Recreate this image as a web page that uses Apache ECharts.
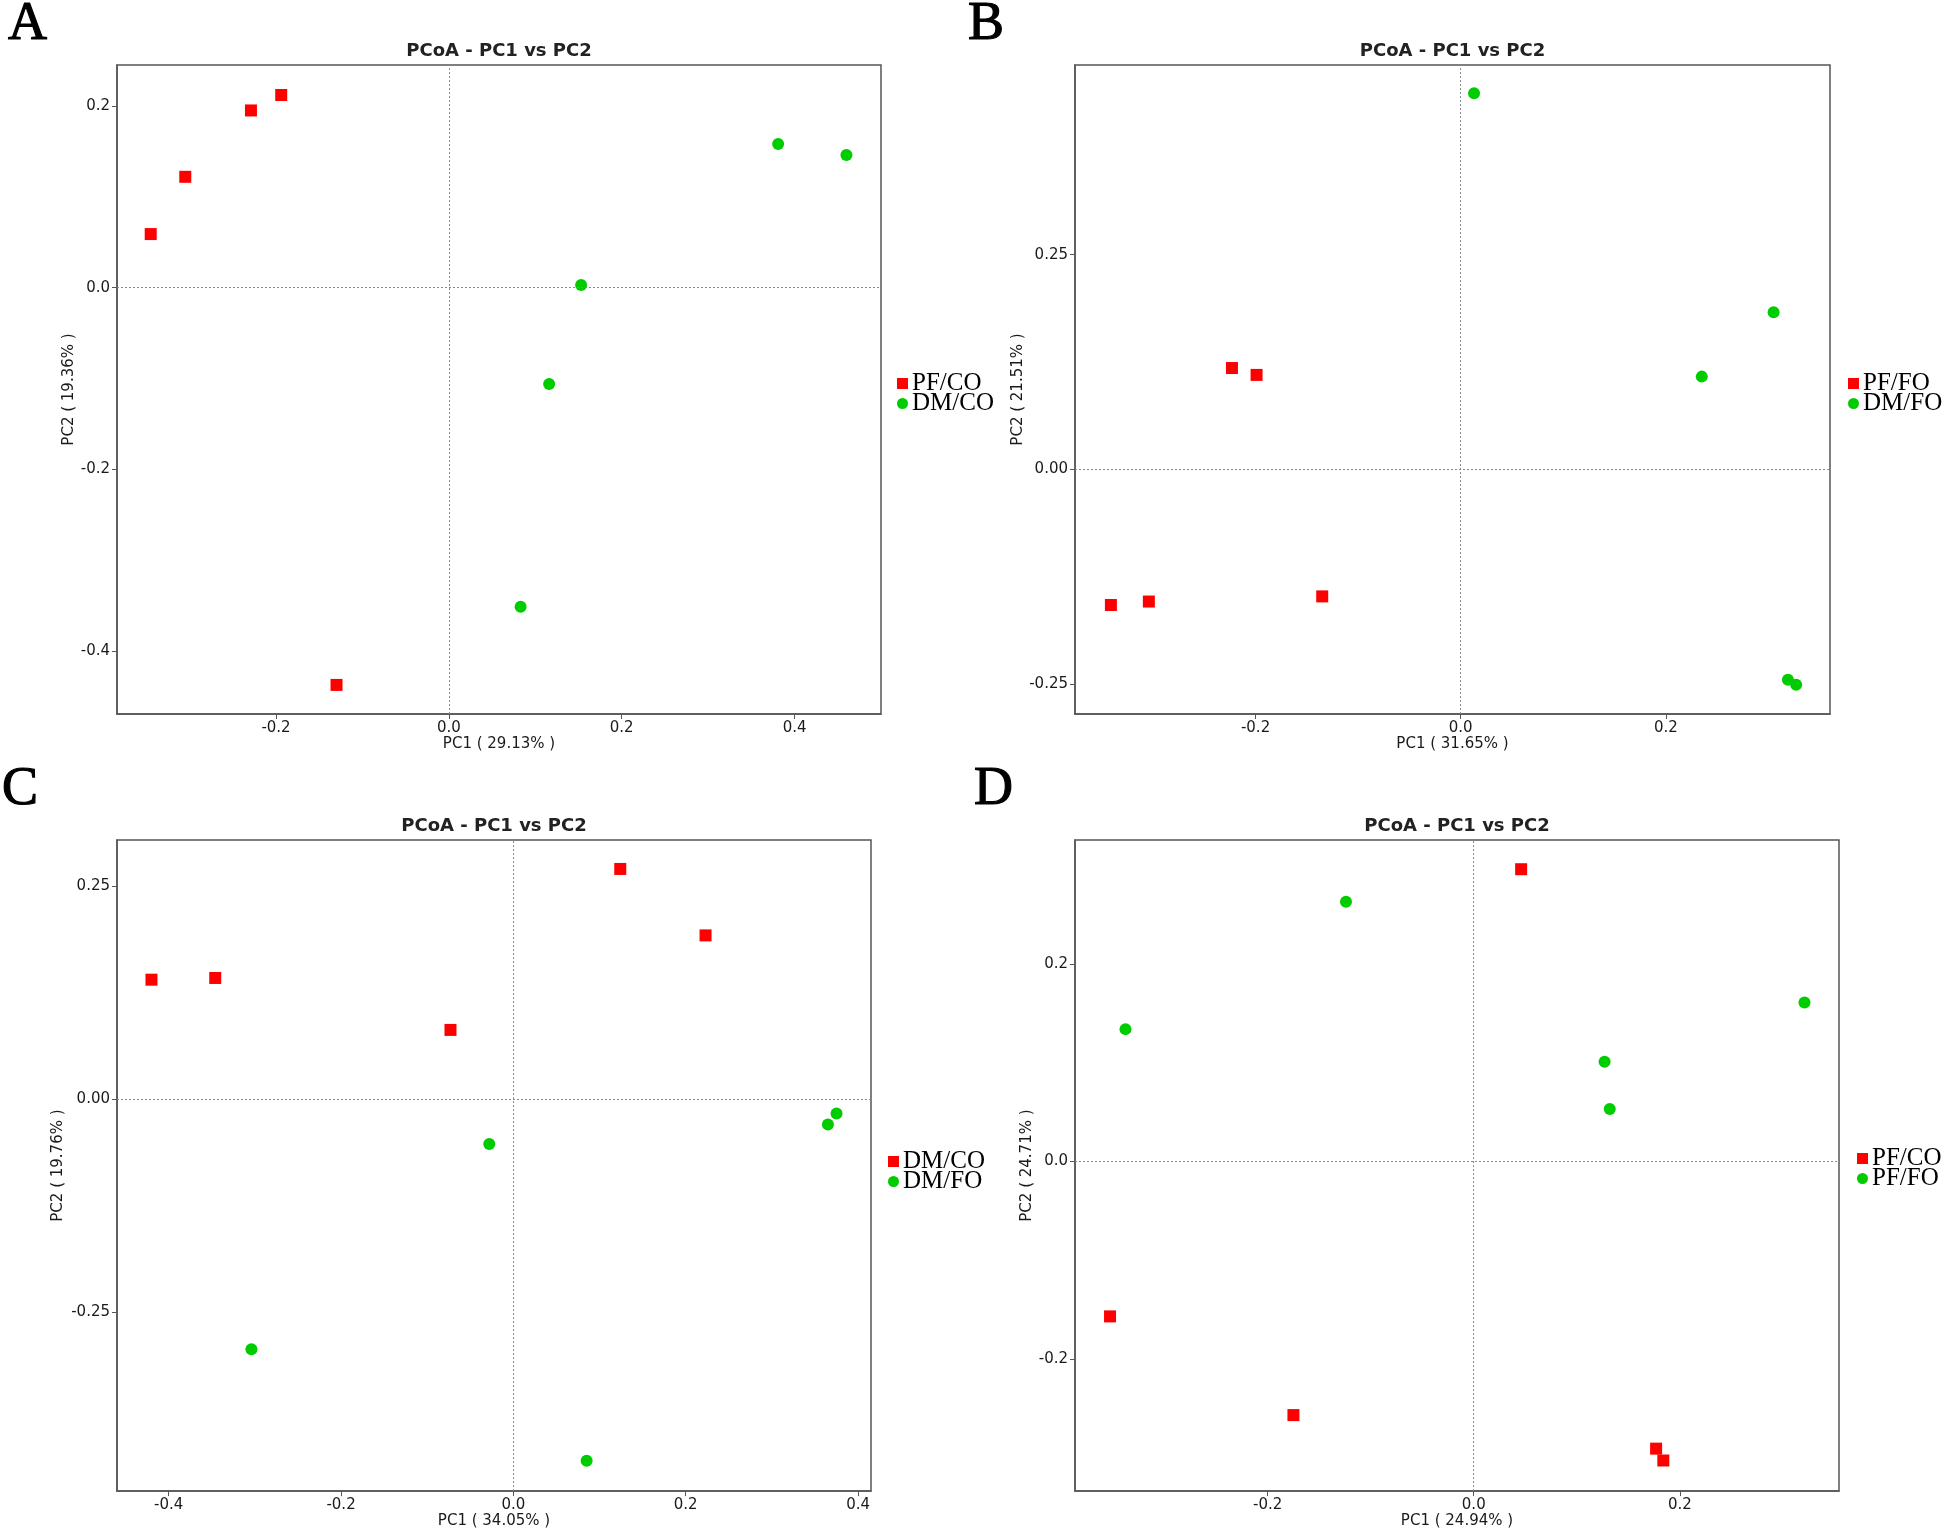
<!DOCTYPE html>
<html>
<head>
<meta charset="utf-8">
<script src="https://cdn.jsdelivr.net/npm/echarts@6/dist/echarts.min.js"></script>
<style>
html,body{margin:0;padding:0;background:#fff;}
#main{width:1946px;height:1530px;}
</style>
</head>
<body>
<div id="main"></div>
<script>
// ---------- DATA ----------
// Panel A
const A_PFCO = [[-0.345, 0.059], [-0.305, 0.122], [-0.229, 0.195], [-0.194, 0.212], [-0.130, -0.437]];
const A_DMCO = [[0.381, 0.158], [0.460, 0.146], [0.153, 0.003], [0.116, -0.106], [0.083, -0.351]];
const A_xTicks = [-0.2, 0.0, 0.2, 0.4];
const A_xLabels = ['-0.2', '0.0', '0.2', '0.4'];
const A_yTicks = [-0.4, -0.2, 0.0, 0.2];
const A_yLabels = ['-0.4', '-0.2', '0.0', '0.2'];
const A_xName = 'PC1 ( 29.13% )';
const A_yName = 'PC2 ( 19.36% )';

// Panel B
const B_PFFO = [[-0.223, 0.118], [-0.199, 0.110], [-0.341, -0.158], [-0.304, -0.154], [-0.135, -0.148]];
const B_DMFO = [[0.013, 0.438], [0.305, 0.183], [0.235, 0.108], [0.319, -0.245], [0.327, -0.251]];
const B_xTicks = [-0.2, 0.0, 0.2];
const B_xLabels = ['-0.2', '0.0', '0.2'];
const B_yTicks = [-0.25, 0.0, 0.25];
const B_yLabels = ['-0.25', '0.00', '0.25'];
const B_xName = 'PC1 ( 31.65% )';
const B_yName = 'PC2 ( 21.51% )';

// Panel C
const C_DMCO = [[-0.420, 0.140], [-0.346, 0.142], [-0.073, 0.081], [0.124, 0.270], [0.223, 0.192]];
const C_DMFO = [[-0.028, -0.053], [0.365, -0.030], [0.375, -0.017], [-0.304, -0.294], [0.085, -0.425]];
const C_xTicks = [-0.4, -0.2, 0.0, 0.2, 0.4];
const C_xLabels = ['-0.4', '-0.2', '0.0', '0.2', '0.4'];
const C_yTicks = [-0.25, 0.0, 0.25];
const C_yLabels = ['-0.25', '0.00', '0.25'];
const C_xName = 'PC1 ( 34.05% )';
const C_yName = 'PC2 ( 19.76% )';

// Panel D
const D_PFCO = [[0.046, 0.296], [-0.353, -0.157], [-0.175, -0.257], [0.177, -0.291], [0.184, -0.303]];
const D_PFFO = [[-0.124, 0.263], [-0.338, 0.134], [0.321, 0.161], [0.127, 0.101], [0.132, 0.053]];
const D_xTicks = [-0.2, 0.0, 0.2];
const D_xLabels = ['-0.2', '0.0', '0.2'];
const D_yTicks = [-0.2, 0.0, 0.2];
const D_yLabels = ['-0.2', '0.0', '0.2'];
const D_xName = 'PC1 ( 24.94% )';
const D_yName = 'PC2 ( 24.71% )';

const TITLE = 'PCoA - PC1 vs PC2';
const RED = '#ff0000';
const GREEN = '#00cc00';

// ---------- LAYOUT ----------
const panels = [
  {letter:'A', grid:{left:117, top:65, width:764, height:649}, xr:[-0.384, 0.500], yr:[-0.469, 0.245],
   xT:A_xTicks, xL:A_xLabels, yT:A_yTicks, yL:A_yLabels, xN:A_xName, yN:A_yName, yGap:39, xGap:23,
   s:[{name:'PF/CO', d:A_PFCO, sym:'rect', c:RED}, {name:'DM/CO', d:A_DMCO, sym:'circle', c:GREEN}],
   leg:{left:897, top:371}, letterPos:[8, 25], titleY:51},
  {letter:'B', grid:{left:1075, top:65, width:755, height:649}, xr:[-0.376, 0.360], yr:[-0.285, 0.471],
   xT:B_xTicks, xL:B_xLabels, yT:B_yTicks, yL:B_yLabels, xN:B_xName, yN:B_yName, yGap:48, xGap:23,
   s:[{name:'PF/FO', d:B_PFFO, sym:'rect', c:RED}, {name:'DM/FO', d:B_DMFO, sym:'circle', c:GREEN}],
   leg:{left:1848, top:371}, letterPos:[968, 25], titleY:51},
  {letter:'C', grid:{left:117, top:840, width:754, height:652}, xr:[-0.460, 0.415], yr:[-0.4605, 0.304],
   xT:C_xTicks, xL:C_xLabels, yT:C_yTicks, yL:C_yLabels, xN:C_xName, yN:C_yName, yGap:51, xGap:20,
   s:[{name:'DM/CO', d:C_DMCO, sym:'rect', c:RED}, {name:'DM/FO', d:C_DMFO, sym:'circle', c:GREEN}],
   leg:{left:888, top:1149}, letterPos:[2, 790], titleY:826},
  {letter:'D', grid:{left:1075, top:840, width:764, height:652}, xr:[-0.387, 0.3545], yr:[-0.334, 0.3256],
   xT:D_xTicks, xL:D_xLabels, yT:D_yTicks, yL:D_yLabels, xN:D_xName, yN:D_yName, yGap:40, xGap:20,
   s:[{name:'PF/CO', d:D_PFCO, sym:'rect', c:RED}, {name:'PF/FO', d:D_PFFO, sym:'circle', c:GREEN}],
   leg:{left:1857, top:1146}, letterPos:[974, 790], titleY:826}
];

const AXIS_COLOR = '#555';
const TEXT_COLOR = '#1a1a1a';
const SANS = '"DejaVu Sans", sans-serif';

function fmt(ticks, labels) {
  return function (v) {
    for (let i = 0; i < ticks.length; i++) if (Math.abs(ticks[i] - v) < 1e-9) return labels[i];
    return '';
  };
}

const grids = [], xAxes = [], yAxes = [], series = [], legends = [], graphics = [];
panels.forEach((p, i) => {
  grids.push(Object.assign({show:true, borderColor:AXIS_COLOR, borderWidth:1.5, backgroundColor:'transparent'}, p.grid));
  xAxes.push({
    type:'value', gridIndex:i, min:p.xr[0], max:p.xr[1],
    name:p.xN, nameLocation:'middle', nameGap:p.xGap,
    nameTextStyle:{fontFamily:SANS, fontSize:15, color:TEXT_COLOR},
    axisLine:{show:true, onZero:false, lineStyle:{color:AXIS_COLOR, width:1.5}},
    axisTick:{show:true, length:5, lineStyle:{color:AXIS_COLOR, width:1}, customValues:p.xT},
    axisLabel:{show:true, margin:7, fontFamily:SANS, fontSize:15, color:TEXT_COLOR, customValues:p.xT, formatter:fmt(p.xT, p.xL)},
    splitLine:{show:false}
  });
  yAxes.push({
    type:'value', gridIndex:i, min:p.yr[0], max:p.yr[1],
    name:p.yN, nameLocation:'middle', nameGap:p.yGap,
    nameTextStyle:{fontFamily:SANS, fontSize:15, color:TEXT_COLOR},
    axisLine:{show:true, onZero:false, lineStyle:{color:AXIS_COLOR, width:1.5}},
    axisTick:{show:true, length:5, lineStyle:{color:AXIS_COLOR, width:1}, customValues:p.yT},
    axisLabel:{show:true, margin:7, fontFamily:SANS, fontSize:15, color:TEXT_COLOR, customValues:p.yT, formatter:fmt(p.yT, p.yL)},
    splitLine:{show:false}
  });
  p.s.forEach((s, j) => {
    const ser = {
      type:'scatter', name:s.name, xAxisIndex:i, yAxisIndex:i, data:s.d,
      symbol:s.sym, symbolSize:12,
      itemStyle:{color:s.c, opacity:1},
      emphasis:{disabled:true}, silent:true, z:3
    };
    if (j === 0) {
      ser.markLine = {
        silent:true, symbol:'none', animation:false,
        label:{show:false},
        lineStyle:{type:[2, 2], color:'#8a8a8a', width:1},
        emphasis:{disabled:true},
        data:[{xAxis:0}, {yAxis:0}]
      };
    }
    series.push(ser);
  });
  legends.push({
    orient:'vertical', left:p.leg.left, top:p.leg.top, itemWidth:11, itemHeight:11, itemGap:-5,
    selectedMode:false, padding:0,
    textStyle:{fontFamily:'"Liberation Serif", serif', fontSize:25, color:'#000', padding:[0, 0, 0, -1]},
    data:p.s.map(s => ({name:s.name, icon:s.sym, itemStyle:{color:s.c, opacity:1}}))
  });
  // panel letter
  graphics.push({type:'text', x:p.letterPos[0], y:p.letterPos[1],
    style:{text:p.letter, font:'54px "Liberation Serif", serif', fill:'#000', stroke:'#000', lineWidth:1.2,
      textAlign:'left', textVerticalAlign:'middle'}});
  // panel title
  graphics.push({type:'text', x:p.grid.left + p.grid.width / 2, y:p.titleY,
    style:{text:TITLE, font:'bold 18px "DejaVu Sans", sans-serif', fill:'#222', textAlign:'center', textVerticalAlign:'middle'}});
});

const chart = echarts.init(document.getElementById('main'), null, {renderer:'canvas'});
chart.setOption({
  animation:false,
  backgroundColor:'#ffffff',
  grid:grids, xAxis:xAxes, yAxis:yAxes, series:series, legend:legends,
  graphic:graphics
});
</script>
</body>
</html>
